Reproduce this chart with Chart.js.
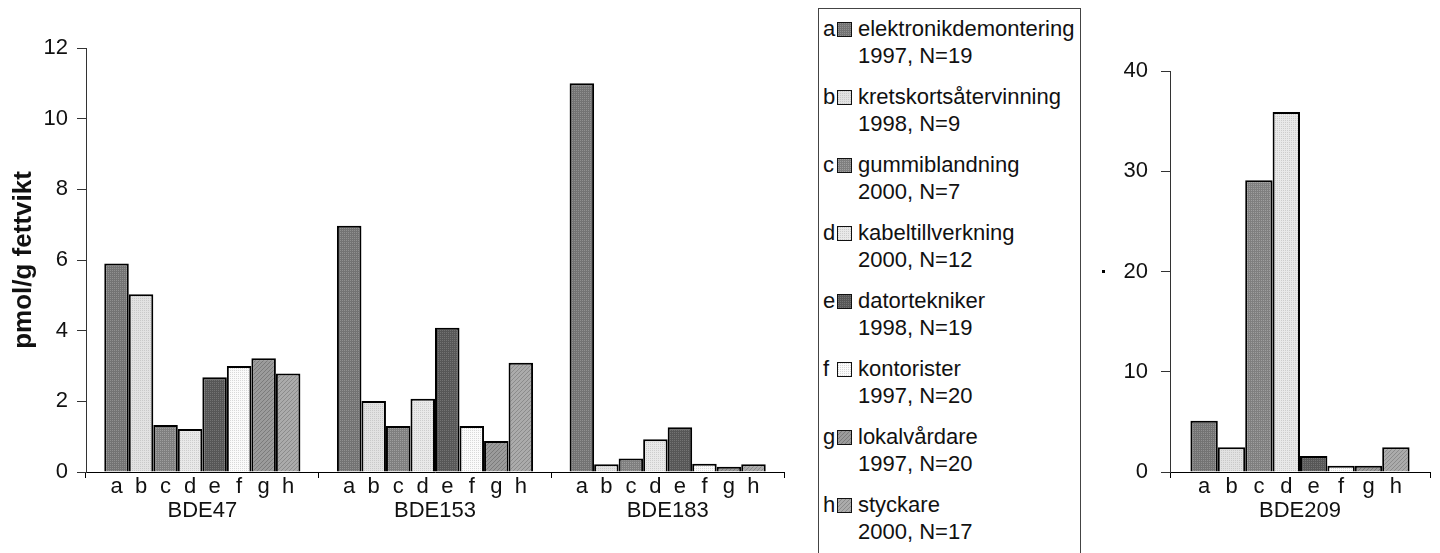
<!DOCTYPE html>
<html>
<head>
<meta charset="utf-8">
<script src="https://cdn.jsdelivr.net/npm/chart.js@4.4.0/dist/chart.umd.min.js"></script>
<style>
  body{margin:0;background:#fff;width:1440px;height:553px;overflow:hidden;position:relative;font-family:"Liberation Sans",Arial,sans-serif;}
  #left-chart{position:absolute;left:0;top:0;}
  #right-chart{position:absolute;left:1085px;top:0;}
  #legend{position:absolute;left:818px;top:8px;width:263px;height:570px;border:1px solid #444;box-sizing:border-box;padding:6px 0 0 4px;color:#111;font-size:22px;}
  .item{height:68px;line-height:27px;}
  .item .letter{display:inline-block;width:14px;}
  .item .swatch{display:inline-block;width:13px;height:13px;border:1px solid #111;vertical-align:-1px;margin-right:6px;}
  .item .info{padding-left:35px;}
  #dot{position:absolute;left:1102px;top:270px;width:3px;height:3px;background:#000;}
</style>
</head>
<body>
<canvas id="left-chart" width="800" height="553"></canvas>
<div id="legend"></div>
<canvas id="right-chart" width="355" height="553"></canvas>
<div id="dot"></div>
<script>
const groups = ["BDE47", "BDE153", "BDE183"];
const letters = ["a", "b", "c", "d", "e", "f", "g", "h"];
const occupations = ["elektronikdemontering", "kretskortsåtervinning", "gummiblandning", "kabeltillverkning",
    "datortekniker", "kontorister", "lokalvårdare", "styckare"];
const studyInfo = ["1997, N=19", "1998, N=9", "2000, N=7", "2000, N=12",
    "1998, N=19", "1997, N=20", "1997, N=20", "2000, N=17"];

const bde47 = [5.9, 5.03, 1.33, 1.22, 2.68, 3.0, 3.22, 2.79];
const bde153 = [6.97, 2.01, 1.3, 2.07, 4.08, 1.3, 0.88, 3.09];
const bde183 = [11.0, 0.22, 0.38, 0.93, 1.27, 0.23, 0.15, 0.22];
const bde209 = [5.1, 2.46, 29.1, 35.9, 1.6, 0.63, 0.63, 2.46];

const leftMax = 12, leftStep = 2;
const rightMax = 40, rightStep = 10;

// fill looks: base grey, dot grey, dots or diagonal hatch
const looks = [
    ["#737373", "#909090", "dots"],
    ["#e2e2e2", "#c9c9c9", "dots"],
    ["#7f7f7f", "#9e9e9e", "dots"],
    ["#e9e9e9", "#cdcdcd", "dots"],
    ["#575757", "#737373", "dots"],
    ["#fbfbfb", "#d9d9d9", "dots"],
    ["#9b9b9b", "#7b7b7b", "diag"],
    ["#ababab", "#8b8b8b", "diag"]
];

function makeTile(base, dot, kind){
    const c = document.createElement("canvas");
    c.width = 4; c.height = 4;
    const g = c.getContext("2d");
    g.fillStyle = base;
    g.fillRect(0, 0, 4, 4);
    g.fillStyle = dot;
    if(kind === "dots"){
        g.fillRect(0, 0, 1, 1); g.fillRect(2, 2, 1, 1);
        g.fillRect(2, 0, 1, 1); g.fillRect(0, 2, 1, 1);
    }else{
        for(let i = 0; i < 4; i++){ g.fillRect(i, 3 - i, 1, 1); }
    }
    return c;
}

const tiles = looks.map(l => makeTile(l[0], l[1], l[2]));
const ctxTmp = document.createElement("canvas").getContext("2d");
const patterns = tiles.map(t => ctxTmp.createPattern(t, "repeat"));

// legend
const legend = document.getElementById("legend");
letters.forEach(function(l, i){
    const item = document.createElement("div");
    item.className = "item";
    item.innerHTML = '<div><span class="letter">' + l + '</span><span class="swatch" style="background-image:url(' +
        tiles[i].toDataURL() + ')"></span>' + occupations[i] + '</div><div class="info">' + studyInfo[i] + '</div>';
    legend.appendChild(item);
});

const font = {family: '"Liberation Sans", Arial, sans-serif', size: 22};

// letters a..h under every bar
const barLetters = {
    id: "barLetters",
    afterDatasetsDraw(chart){
        const c = chart.ctx;
        c.save();
        c.font = "22px " + font.family;
        c.fillStyle = "#111";
        c.textAlign = "center";
        c.textBaseline = "middle";
        chart.data.datasets.forEach(function(ds, i){
            chart.getDatasetMeta(i).data.forEach(function(bar){
                c.fillText(letters[i], bar.x, chart.chartArea.bottom + 15);
            });
        });
        c.restore();
    }
};

function makeDatasets(cols){
    return letters.map(function(l, i){
        return {
            label: l,
            data: cols.map(col => col[i]),
            backgroundColor: patterns[i],
            borderColor: "#000",
            borderWidth: 2,
            borderSkipped: "bottom",
            categoryPercentage: 0.843,
            barPercentage: 1.0
        };
    });
}

function makeOptions(max, step, yWidth, top, right, tickPad, withTitle){
    return {
        responsive: false,
        animation: false,
        layout: {padding: {top: top, right: right, left: 0, bottom: 0}},
        plugins: {legend: {display: false}, tooltip: {enabled: false}},
        scales: {
            x: {
                afterFit(scale){ scale.height = 81; },
                grid: {display: true, drawOnChartArea: false, drawTicks: true, tickLength: 6, color: "#000", offset: true},
                border: {display: true, color: "#000", width: 1},
                ticks: {font: font, color: "#111", padding: 20}
            },
            y: {
                min: 0, max: max,
                afterFit(scale){ scale.width = yWidth; },
                grid: {display: true, drawOnChartArea: false, drawTicks: true, tickLength: 9, color: "#333"},
                border: {display: true, color: "#333", width: 1},
                ticks: {stepSize: step, font: font, color: "#111", padding: tickPad},
                title: {
                    display: withTitle,
                    text: "pmol/g fettvikt",
                    color: "#111",
                    font: {family: font.family, size: 26, weight: "bold"},
                    padding: {top: 8, bottom: 0}
                }
            }
        }
    };
}

new Chart(document.getElementById("left-chart"), {
    type: "bar",
    data: {labels: groups, datasets: makeDatasets([bde47, bde153, bde183])},
    options: makeOptions(leftMax, leftStep, 86, 48, 16, 9, true),
    plugins: [barLetters]
});

new Chart(document.getElementById("right-chart"), {
    type: "bar",
    data: {labels: ["BDE209"], datasets: makeDatasets([bde209])},
    options: makeOptions(rightMax, rightStep, 85, 71, 10, 13, false),
    plugins: [barLetters]
});
</script>
</body>
</html>
